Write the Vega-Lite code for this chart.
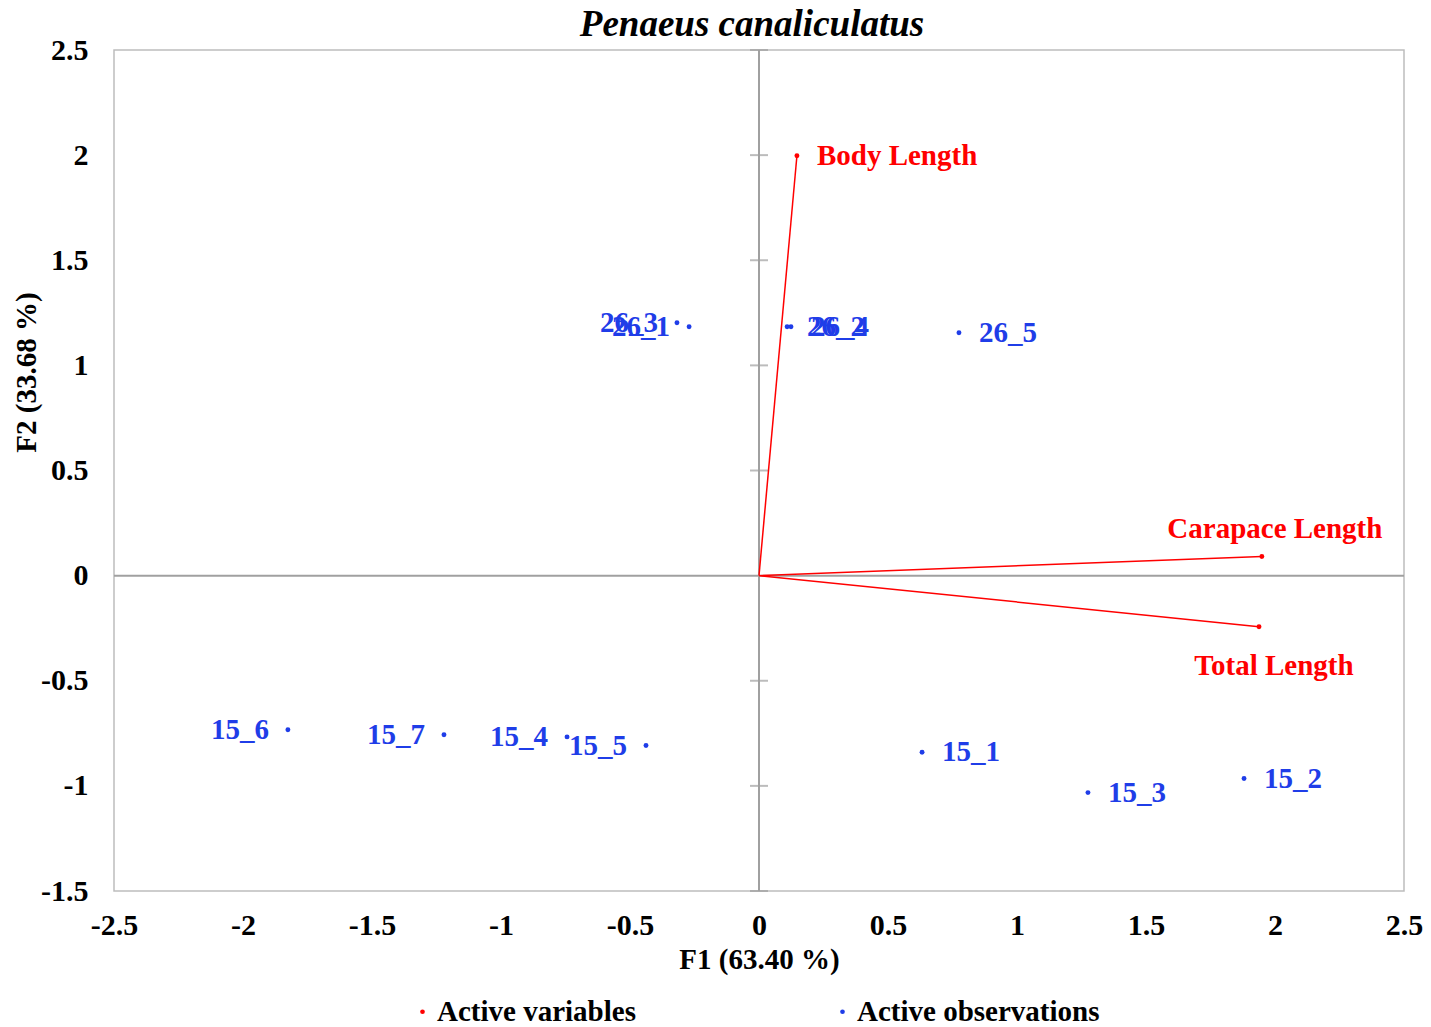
{
  "$schema": "https://vega.github.io/schema/vega-lite/v6.json",
  "width": 1290,
  "height": 841,
  "autosize": {"type": "none"},
  "padding": {"left": 114, "top": 50, "right": 27, "bottom": 136},
  "background": "white",
  "title": {
    "text": "Penaeus canaliculatus",
    "font": "Liberation Serif",
    "fontSize": 37,
    "fontStyle": "italic",
    "fontWeight": "bold",
    "color": "black",
    "anchor": "middle",
    "frame": "group",
    "baseline": "alphabetic",
    "offset": -38,
    "dx": -7
  },
  "config": {
    "view": {"stroke": "#bdbdbd", "strokeWidth": 1.5},
    "axis": {
      "grid": false,
      "domain": false,
      "ticks": false,
      "tickSize": 0,
      "labelFont": "Liberation Serif",
      "labelFontWeight": "bold",
      "labelFontSize": 30,
      "labelColor": "black",
      "labelFlush": false,
      "labelOverlap": false,
      "labelBound": false,
      "titleFont": "Liberation Serif",
      "titleFontWeight": "bold",
      "titleFontSize": 29,
      "titleColor": "black"
    },
    "axisX": {"labelPadding": 19, "titleY": 77, "titleBaseline": "alphabetic"},
    "axisY": {"labelPadding": 26, "titleX": -79, "titleY": 322, "titleAlign": "center", "titleBaseline": "alphabetic", "titleAngle": -90},
    "legend": {
      "labelFont": "Liberation Serif",
      "labelFontWeight": "bold",
      "labelFontSize": 29,
      "labelColor": "black",
      "labelLimit": 400
    }
  },
  "data": {
    "values": [
      {"name": "Body Length", "type": "Active variables", "F1": 0.147, "F2": 1.997},
      {"name": "Carapace Length", "type": "Active variables", "F1": 1.949, "F2": 0.091},
      {"name": "Total Length", "type": "Active variables", "F1": 1.938, "F2": -0.243},
      {"name": "15_1", "type": "Active observations", "F1": 0.632, "F2": -0.840},
      {"name": "15_2", "type": "Active observations", "F1": 1.880, "F2": -0.965},
      {"name": "15_3", "type": "Active observations", "F1": 1.275, "F2": -1.032},
      {"name": "15_4", "type": "Active observations", "F1": -0.744, "F2": -0.767},
      {"name": "15_5", "type": "Active observations", "F1": -0.438, "F2": -0.808},
      {"name": "15_6", "type": "Active observations", "F1": -1.826, "F2": -0.733},
      {"name": "15_7", "type": "Active observations", "F1": -1.221, "F2": -0.757},
      {"name": "26_1", "type": "Active observations", "F1": -0.271, "F2": 1.184},
      {"name": "26_2", "type": "Active observations", "F1": 0.109, "F2": 1.184},
      {"name": "26_3", "type": "Active observations", "F1": -0.318, "F2": 1.203},
      {"name": "26_4", "type": "Active observations", "F1": 0.124, "F2": 1.184},
      {"name": "26_5", "type": "Active observations", "F1": 0.775, "F2": 1.155}
    ]
  },
  "layer": [
    {
      "data": {"values": [{"F1": 0}]},
      "mark": {"type": "rule", "color": "#a0a0a0", "strokeWidth": 2},
      "encoding": {
        "x": {"field": "F1", "type": "quantitative", "scale": {"domain": [-2.5, 2.5], "nice": false, "zero": false},
              "axis": {"title": "F1 (63.40 %)", "values": [-2.5, -2, -1.5, -1, -0.5, 0, 0.5, 1, 1.5, 2, 2.5], "labelExpr": "'' + datum.value"}}
      }
    },
    {
      "data": {"values": [{"F2": 0}]},
      "mark": {"type": "rule", "color": "#a0a0a0", "strokeWidth": 2},
      "encoding": {
        "y": {"field": "F2", "type": "quantitative", "scale": {"domain": [-1.5, 2.5], "nice": false, "zero": false},
              "axis": {"title": "F2 (33.68 %)", "values": [-1.5, -1, -0.5, 0, 0.5, 1, 1.5, 2, 2.5], "labelExpr": "'' + datum.value"}}
      }
    },
    {
      "data": {"values": [{"F2": -1.5}, {"F2": -1}, {"F2": -0.5}, {"F2": 0.5}, {"F2": 1}, {"F2": 1.5}, {"F2": 2}, {"F2": 2.5}]},
      "mark": {"type": "tick", "orient": "horizontal", "color": "#a0a0a0", "size": 18, "thickness": 2},
      "encoding": {
        "x": {"datum": 0, "type": "quantitative", "scale": {"domain": [-2.5, 2.5], "nice": false, "zero": false}},
        "y": {"field": "F2", "type": "quantitative", "scale": {"domain": [-1.5, 2.5], "nice": false, "zero": false}}
      }
    },
    {
      "transform": [{"filter": "datum.type == 'Active variables'"}],
      "mark": {"type": "rule", "color": "#ff0000", "strokeWidth": 1.5},
      "encoding": {
        "x": {"field": "F1", "type": "quantitative", "scale": {"domain": [-2.5, 2.5], "nice": false, "zero": false}},
        "y": {"field": "F2", "type": "quantitative", "scale": {"domain": [-1.5, 2.5], "nice": false, "zero": false}},
        "x2": {"datum": 0},
        "y2": {"datum": 0}
      }
    },
    {
      "mark": {"type": "circle", "size": 24, "opacity": 1},
      "encoding": {
        "x": {"field": "F1", "type": "quantitative", "scale": {"domain": [-2.5, 2.5], "nice": false, "zero": false}},
        "y": {"field": "F2", "type": "quantitative", "scale": {"domain": [-1.5, 2.5], "nice": false, "zero": false}},
        "color": {
          "field": "type", "type": "nominal",
          "scale": {"domain": ["Active variables", "Active observations"], "range": ["#ff0000", "#1f3de8"]},
          "legend": {"title": null, "orient": "none", "direction": "horizontal", "legendX": 294, "legendY": 947, "symbolType": "circle", "symbolSize": 22, "columnPadding": 192, "labelOffset": 0}
        }
      }
    },
    {
      "transform": [{"filter": "datum.F1 > 0 && datum.name != 'Carapace Length' && datum.name != 'Total Length'"}],
      "mark": {"type": "text", "align": "left", "baseline": "middle", "dx": 20, "font": "Liberation Serif", "fontWeight": "bold", "fontSize": 29},
      "encoding": {
        "x": {"field": "F1", "type": "quantitative", "scale": {"domain": [-2.5, 2.5], "nice": false, "zero": false}},
        "y": {"field": "F2", "type": "quantitative", "scale": {"domain": [-1.5, 2.5], "nice": false, "zero": false}},
        "text": {"field": "name"},
        "color": {"field": "type", "type": "nominal"}
      }
    },
    {
      "transform": [{"filter": "datum.F1 < 0"}],
      "mark": {"type": "text", "align": "right", "baseline": "middle", "dx": -19, "font": "Liberation Serif", "fontWeight": "bold", "fontSize": 29},
      "encoding": {
        "x": {"field": "F1", "type": "quantitative", "scale": {"domain": [-2.5, 2.5], "nice": false, "zero": false}},
        "y": {"field": "F2", "type": "quantitative", "scale": {"domain": [-1.5, 2.5], "nice": false, "zero": false}},
        "text": {"field": "name"},
        "color": {"field": "type", "type": "nominal"}
      }
    },
    {
      "transform": [{"filter": "datum.name == 'Carapace Length'"}],
      "mark": {"type": "text", "align": "center", "baseline": "middle", "dx": 13, "dy": -27, "font": "Liberation Serif", "fontWeight": "bold", "fontSize": 29},
      "encoding": {
        "x": {"field": "F1", "type": "quantitative", "scale": {"domain": [-2.5, 2.5], "nice": false, "zero": false}},
        "y": {"field": "F2", "type": "quantitative", "scale": {"domain": [-1.5, 2.5], "nice": false, "zero": false}},
        "text": {"field": "name"},
        "color": {"field": "type", "type": "nominal"}
      }
    },
    {
      "transform": [{"filter": "datum.name == 'Total Length'"}],
      "mark": {"type": "text", "align": "center", "baseline": "middle", "dx": 15, "dy": 39, "font": "Liberation Serif", "fontWeight": "bold", "fontSize": 29},
      "encoding": {
        "x": {"field": "F1", "type": "quantitative", "scale": {"domain": [-2.5, 2.5], "nice": false, "zero": false}},
        "y": {"field": "F2", "type": "quantitative", "scale": {"domain": [-1.5, 2.5], "nice": false, "zero": false}},
        "text": {"field": "name"},
        "color": {"field": "type", "type": "nominal"}
      }
    }
  ]
}
